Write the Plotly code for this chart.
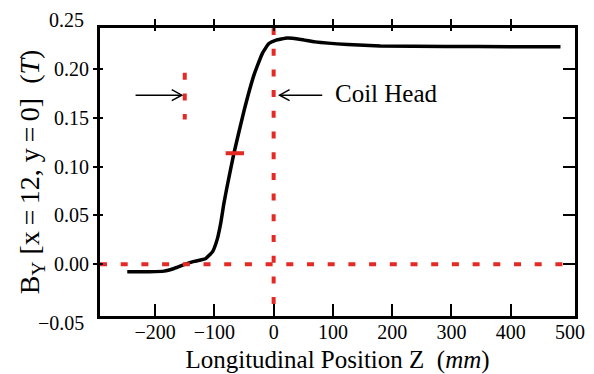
import plotly.graph_objects as go

# ---- data ----
z_mm = [-247, -210, -185, -168, -151, -134, -115, -103, -95, -89, -84, -79,
        -67, -50, -33, -19, -8, 3, 23, 46, 70, 125, 180, 290, 400, 484]
by_T = [-0.0077, -0.0076, -0.0070, -0.0043, -0.0003, 0.0030, 0.0057, 0.0130,
        0.0260, 0.0430, 0.0620, 0.0780, 0.1136, 0.1570, 0.1940, 0.2158,
        0.2258, 0.2290, 0.2315, 0.2300, 0.2275, 0.2248, 0.2234, 0.2228,
        0.2226, 0.2224]

x_tick_vals = [-200, -100, 0, 100, 200, 300, 400, 500]
x_tick_text = ["\u2212200", "\u2212100", "0", "100", "200", "300", "400", "500"]
x_tick_marks = [-200, -100, 0, 100, 200, 300, 400]
y_tick_vals = [0.00, 0.05, 0.10, 0.15, 0.20]
y_tick_text = ["0.00", "0.05", "0.10", "0.15", "0.20"]
y_edge_vals = [0.25, -0.05]
y_edge_text = ["0.25", "\u22120.05"]

x_range = [-293, 508.5]
y_range = [-0.0529, 0.2417]

zero_line_x = [-293, 490]
zero_line_y = [0, 0]
coil_head_x = [0, 0]
coil_head_y = [0.2417, -0.0529]
inject_x = [-150, -150]
inject_y = [0.196, 0.148]
mid_x = [-81, -50]
mid_y = [0.1136, 0.1136]

arrow_y = 0.173
arrow_right = (-233, -155)   # tail, tip
arrow_left = (82, 10)        # tail, tip
label_text = "Coil Head"
label_pos = (100, 0.175)

RED = "#e42a24"
FONT = "Liberation Serif"

fig = go.Figure()
fig.add_trace(go.Scatter(x=z_mm, y=by_T, mode="lines",
                         line=dict(color="black", width=3.5, shape="spline", smoothing=0.4),
                         hoverinfo="skip", showlegend=False))
dash = "7px,13.7px"
for xs, ys, d in [(zero_line_x, zero_line_y, dash), (coil_head_x, coil_head_y, dash),
                  (inject_x, inject_y, dash), (mid_x, mid_y, "solid")]:
    fig.add_trace(go.Scatter(x=xs, y=ys, mode="lines",
                             line=dict(color=RED, width=4, dash=d),
                             hoverinfo="skip", showlegend=False))

# invisible traces to activate the extra tick axes
for n in (2, 3, 4):
    fig.add_trace(go.Scatter(x=x_range, y=y_range, mode="markers",
                             marker=dict(opacity=0), hoverinfo="skip",
                             showlegend=False, xaxis=f"x{n}", yaxis=f"y{n}"))

# arrows: shaft + open chevron head
for tail, tip in (arrow_right, arrow_left):
    fig.add_shape(type="line", x0=tail, x1=tip, y0=arrow_y, y1=arrow_y,
                  xref="x", yref="y", line=dict(color="black", width=1.5), layer="above")
    s = 1 if tip > tail else -1
    fig.add_shape(type="path", xref="x", yref="y", xsizemode="pixel", ysizemode="pixel",
                  xanchor=tip, yanchor=arrow_y,
                  path=f"M {-10*s},5.5 L 0,0 L {-10*s},-5.5",
                  line=dict(color="black", width=1.5), layer="above")

fig.add_annotation(x=label_pos[0], y=label_pos[1], xref="x", yref="y", text=label_text,
                   showarrow=False, xanchor="left", yanchor="middle",
                   font=dict(family=FONT, size=25, color="black"))

for v, t, sh in zip(y_edge_vals, y_edge_text, [0, -10]):
    fig.add_annotation(x=0, xref="paper", xanchor="right", xshift=-14.5,
                       y=(v - y_range[0]) / (y_range[1] - y_range[0]), yref="paper",
                       yanchor="middle", yshift=sh, text=t, showarrow=False,
                       font=dict(family=FONT, size=20, color="black"))

common = dict(showgrid=False, zeroline=False)
tick_font = dict(family=FONT, size=20, color="black")
# the page body has an 8px margin, so the figure is sized/placed to compensate
fig.update_layout(
    width=586, height=366,
    margin=dict(l=91.5, r=19, t=14.5, b=58),
    paper_bgcolor="white", plot_bgcolor="white",
    font=dict(family=FONT, color="black"),
    xaxis=dict(range=x_range, tickvals=x_tick_vals, ticktext=x_tick_text, ticks="",
               showline=True, linewidth=3, linecolor="black", mirror=True,
               tickfont=tick_font, automargin=False, ticklabelstandoff=-4,
               title=dict(text="Longitudinal Position Z  (<i>mm</i>)",
                          font=dict(family=FONT, size=25), standoff=9), **common),
    yaxis=dict(range=y_range, tickvals=y_tick_vals, ticktext=y_tick_text, ticks="",
               showline=True, linewidth=3, linecolor="black", mirror=True,
               tickfont=tick_font, automargin=False, ticklabelstandoff=4,
               title=dict(text="B<sub>Y</sub> [x\u2009=\u200912, y\u2009=\u20090]  (<i>T</i>)",
                          font=dict(family=FONT, size=28), standoff=7), **common),
    xaxis2=dict(overlaying="x", side="bottom", anchor="y", range=x_range,
                tickvals=x_tick_marks, ticks="inside", ticklen=12, tickwidth=1.5,
                tickcolor="black", showticklabels=False, showline=False, **common),
    xaxis3=dict(overlaying="x", side="top", anchor="y", range=x_range,
                tickvals=x_tick_marks, ticks="outside", ticklen=8, tickwidth=1.5,
                tickcolor="black", showticklabels=False, showline=False, **common),
    xaxis4=dict(overlaying="x", side="top", anchor="y", range=x_range,
                tickvals=x_tick_marks, ticks="inside", ticklen=3, tickwidth=1.5,
                tickcolor="black", showticklabels=False, showline=False, **common),
    yaxis2=dict(overlaying="y", side="left", anchor="x", range=y_range,
                tickvals=y_tick_vals, ticks="inside", ticklen=3, tickwidth=1.5,
                tickcolor="black", showticklabels=False, showline=False, **common),
    yaxis3=dict(overlaying="y", side="left", anchor="x", range=y_range,
                tickvals=y_tick_vals, ticks="outside", ticklen=6, tickwidth=1.5,
                tickcolor="black", showticklabels=False, showline=False, **common),
    yaxis4=dict(overlaying="y", side="right", anchor="x", range=y_range,
                tickvals=y_tick_vals, ticks="inside", ticklen=12, tickwidth=1.5,
                tickcolor="black", showticklabels=False, showline=False, **common),
)

fig.write_html("out.html")
